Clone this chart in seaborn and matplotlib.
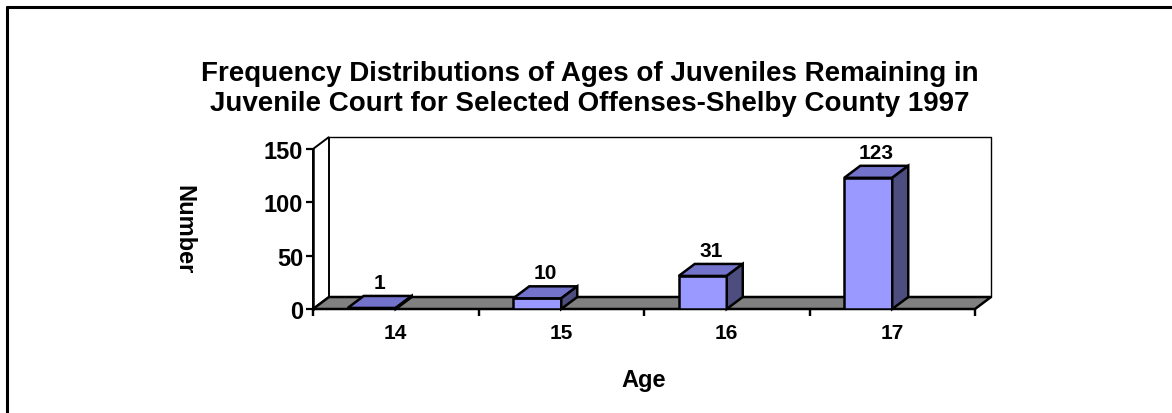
import matplotlib
matplotlib.use("Agg")
import matplotlib.pyplot as plt
import matplotlib.transforms as mtransforms
from matplotlib.patches import Polygon
from matplotlib.lines import Line2D
import seaborn as sns
import pandas as pd

ages = ["14", "15", "16", "17"]
counts = [1, 10, 31, 123]
y_ticks = [0, 50, 100, 150]

title = ("Frequency Distributions of Ages of Juveniles Remaining in\n"
         "Juvenile Court for Selected Offenses-Shelby County 1997")

sns.set_theme(style="white")
plt.rcParams["font.family"] = ["Liberation Sans", "DejaVu Sans"]
plt.rcParams["font.weight"] = "bold"
for k in ["text.color", "axes.labelcolor", "xtick.color", "ytick.color"]:
    plt.rcParams[k] = "black"

DPI = 100
fig = plt.figure(figsize=(11.72, 4.14), dpi=DPI)
W, H = 1172, 414
pix = mtransforms.IdentityTransform()

# front of the plot area in pixels
x0, x1 = 313, 975
y_bot, y_top = 310, 150
ax = fig.add_axes([x0 / W, (H - y_bot) / H, (x1 - x0) / W, (y_bot - y_top) / H])

df = pd.DataFrame({"age": ages, "count": counts})
sns.barplot(data=df, x="age", y="count", color="#9999FF", width=0.29,
            edgecolor="black", linewidth=1.8, saturation=1, ax=ax, zorder=3)

ax.set_xlim(-0.5, 3.5)
ax.set_ylim(0, 150)
ax.set_autoscale_on(False)

# depth offset (pixels)
dx, dy = 16, 12
depth = ax.transData + mtransforms.ScaledTranslation(dx / DPI, dy / DPI, fig.dpi_scale_trans)
front = ax.transData

bars = list(ax.patches)
# front face sits just left of the category centre
for p in bars:
    p.set_x(p.get_x() + p.get_width() / 2 - 0.29)

# floor and walls
floor_pts = [front.transform((-0.5, 0)), front.transform((3.5, 0)),
             depth.transform((3.5, 0)), depth.transform((-0.5, 0))]
ax.add_patch(Polygon(floor_pts, closed=True, transform=pix, facecolor="#808080",
                     edgecolor="black", linewidth=1.8, zorder=1, clip_on=False))

wall_pts = [front.transform((-0.5, 0)), front.transform((-0.5, 150)),
            depth.transform((-0.5, 150)), depth.transform((-0.5, 0))]
ax.add_patch(Polygon(wall_pts, closed=True, transform=pix, facecolor="white",
                     edgecolor="black", linewidth=1.4, zorder=0.5, clip_on=False))
back_pts = [depth.transform((-0.5, 150)), depth.transform((3.5, 150)), depth.transform((3.5, 0))]
ax.add_line(Line2D([p[0] for p in back_pts], [p[1] for p in back_pts], transform=pix,
                   color="black", linewidth=1.0, zorder=0.5, clip_on=False))

# 3D faces of each bar
for p, v in zip(bars, counts):
    bx, bw, bh = p.get_x(), p.get_width(), p.get_height()
    fr_tl = front.transform((bx, bh))
    fr_tr = front.transform((bx + bw, bh))
    fr_br = front.transform((bx + bw, 0))
    bk_tl = depth.transform((bx, bh))
    bk_tr = depth.transform((bx + bw, bh))
    bk_br = depth.transform((bx + bw, 0))
    ax.add_patch(Polygon([fr_tl, fr_tr, bk_tr, bk_tl], closed=True, transform=pix,
                         facecolor="#7373CC", edgecolor="black", linewidth=1.8,
                         zorder=4, clip_on=False))
    ax.add_patch(Polygon([fr_tr, fr_br, bk_br, bk_tr], closed=True, transform=pix,
                         facecolor="#4D4D80", edgecolor="black", linewidth=1.8,
                         zorder=4, clip_on=False))
    ax.annotate(str(v), (bx + bw / 2, bh), xytext=(dx / 2 * 0.72, (dy + 4) * 0.72),
                textcoords="offset points", ha="center", va="bottom",
                fontsize=15, fontweight="bold", color="black")

for s in ["top", "right", "bottom"]:
    ax.spines[s].set_visible(False)
ax.spines["left"].set_color("black")
ax.spines["left"].set_linewidth(1.8)
ax.spines["left"].set_zorder(5)
ax.patch.set_visible(False)

ax.set_yticks(y_ticks)
ax.set_yticklabels([str(t) for t in y_ticks], fontsize=17, fontweight="bold")
ax.set_xticks(range(len(ages)))
ax.set_xticklabels(ages, fontsize=15, fontweight="bold")
ax.tick_params(axis="y", length=5, width=1.6, color="black", left=True, pad=2)
ax.tick_params(axis="x", length=0, pad=10)
down = ax.transData + mtransforms.ScaledTranslation(0, -3 / DPI, fig.dpi_scale_trans)
for xb in [-0.5, 0.5, 1.5, 2.5, 3.5]:
    ax.plot([xb, xb], [0, 0], marker=(2, 0, 0), markersize=6, markeredgewidth=1.6,
            color="black", clip_on=False, transform=down)
ax.set_xlabel("Age", fontsize=17, fontweight="bold", labelpad=19)
ax.set_ylabel("Number", fontsize=17, fontweight="bold", rotation=-90, va="center")
ax.yaxis.set_label_coords(-0.195, 0.5)

fig.text(590 / W, 1 - 89 / H, title, ha="center", va="center", fontsize=20,
         fontweight="bold", linespacing=1.22)

# figure frame: top and left only
fig.lines.append(Line2D([7 / W, 1.0], [1 - 8 / H, 1 - 8 / H], transform=fig.transFigure,
                        color="black", linewidth=2.2))
fig.lines.append(Line2D([7 / W, 7 / W], [1 - 8 / H, 0], transform=fig.transFigure,
                        color="black", linewidth=2.2))

fig.savefig("out.png", dpi=DPI, facecolor="white")
